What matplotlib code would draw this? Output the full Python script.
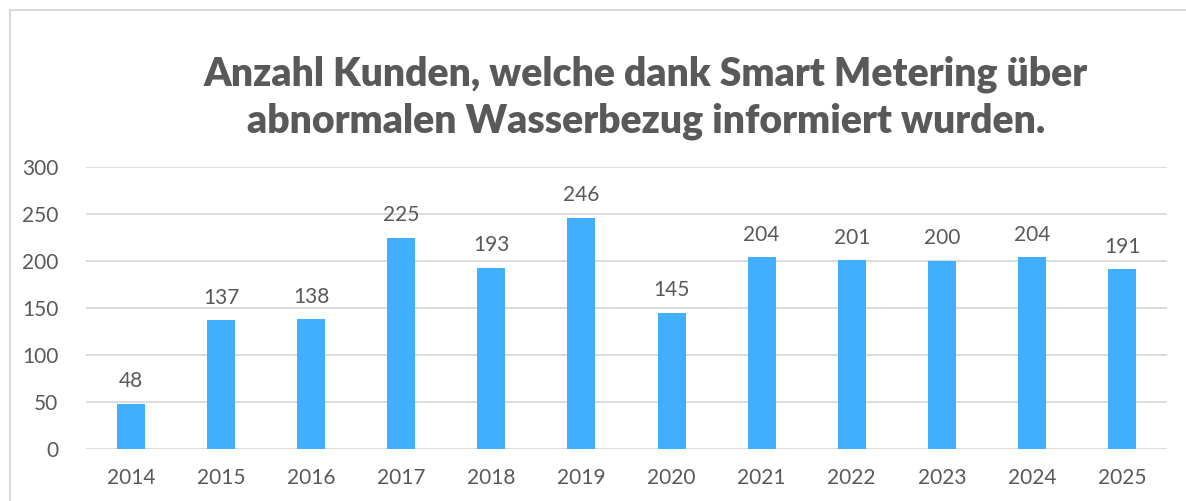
import matplotlib
matplotlib.use("Agg")
import matplotlib.pyplot as plt
from matplotlib.patches import Rectangle

years = ["2014", "2015", "2016", "2017", "2018", "2019", "2020", "2021", "2022", "2023", "2024", "2025"]
customers = [48, 137, 138, 225, 193, 246, 145, 204, 201, 200, 204, 191]
yticks = [0, 50, 100, 150, 200, 250, 300]
title = "Anzahl Kunden, welche dank Smart Metering über\nabnormalen Wasserbezug informiert wurden."

plt.rcParams['font.family'] = ['Lato', 'DejaVu Sans']
txt = "#595959"
W, H = 1186, 501
fig = plt.figure(figsize=(W/100, H/100), dpi=100)
fig.patches.append(Rectangle((10/W, -0.1), 1.2, (1 - 10/H) + 0.1, transform=fig.transFigure,
                             fill=False, edgecolor="#d9d9d9", linewidth=1.5))

ax = fig.add_axes([86/W, 1 - 449/H, (1167-86)/W, (449-167)/H])
x = list(range(len(years)))
ax.bar(x, customers, width=0.31, color="#41AEFF", zorder=3)
ax.set_xlim(-0.5, len(years) - 0.5)
ax.set_ylim(0, 300)
ax.set_yticks(yticks)
ax.set_xticks(x)
ax.set_xticklabels(years)
ax.grid(axis="y", color="#d9d9d9", linewidth=1.3, zorder=0)
for s in ax.spines.values():
    s.set_visible(False)
ax.tick_params(length=0, labelsize=15, labelcolor=txt)
ax.tick_params(axis="x", pad=14)
ax.tick_params(axis="y", pad=20)
for xi, v in zip(x, customers):
    ax.annotate(str(v), (xi, v), xytext=(0, 9), textcoords="offset points",
                ha="center", va="bottom", fontsize=15, color=txt)

fig.text(646/W, 1 - 98/H, title, ha="center", va="center", fontsize=28.2,
         fontweight="heavy", color=txt, linespacing=1.32)
fig.savefig("out.png", dpi=100)
